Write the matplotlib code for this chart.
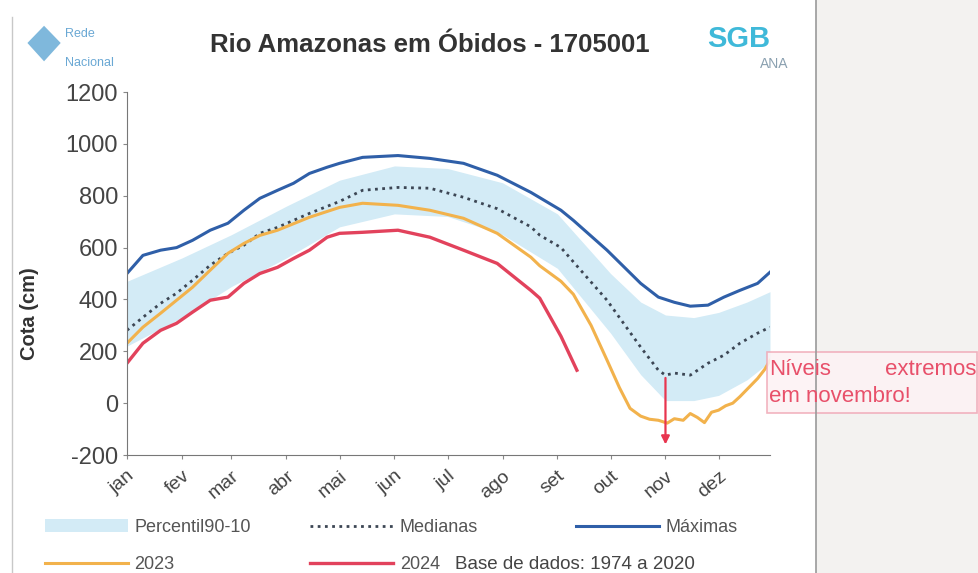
import matplotlib
matplotlib.use("Agg")
import matplotlib.pyplot as plt
from matplotlib.patches import Rectangle, Polygon
from matplotlib.lines import Line2D

plt.rcParams["font.family"] = ["Liberation Sans", "DejaVu Sans"]

# Dias do ano (posições das leituras)
dias_max = [0, 9, 19, 28, 37, 47, 57, 66, 75, 85, 94, 103, 113, 120, 133, 153, 171, 190,
            209, 228, 245, 252, 271, 290, 300, 309, 318, 328, 337, 346, 356, 363]
maximas = [500, 570, 590, 600, 628, 667, 694, 744, 790, 821, 848, 886, 910, 925, 948, 955, 944, 925,
           879, 813, 744, 705, 590, 462, 409, 389, 374, 378, 409, 435, 462, 505]

dias_med = [0, 9, 19, 28, 37, 47, 57, 66, 75, 85, 103, 120, 133, 153, 171, 190, 209, 228,
            233, 245, 252, 271, 290, 300, 304, 309, 318, 328, 337, 346, 356, 363]
medianas = [281, 331, 385, 424, 474, 532, 578, 609, 655, 678, 732, 778, 821, 832, 829, 794, 750, 680,
            648, 600, 545, 397, 216, 127, 108, 116, 108, 154, 185, 231, 270, 293]

dias_2023 = [0, 9, 19, 28, 37, 47, 57, 66, 75, 85, 103, 120, 133, 153, 171, 190, 209, 228,
             233, 245, 252, 262, 271, 278, 284, 290, 295, 300, 305, 309, 314, 318, 322, 326,
             330, 334, 338, 342, 346, 351, 356, 360, 363]
cota_2023 = [231, 293, 347, 397, 447, 513, 578, 616, 647, 667, 717, 755, 771, 763, 744, 713, 655, 563,
             530, 470, 420, 300, 166, 60, -20, -50, -62, -66, -77, -60, -66, -40, -55, -75,
             -35, -27, -10, 0, 25, 60, 95, 130, 165]

dias_2024 = [0, 9, 19, 28, 37, 47, 57, 66, 75, 85, 94, 103, 113, 120, 133, 153, 171, 190,
             209, 228, 233, 245, 254]
cota_2024 = [154, 231, 281, 308, 351, 397, 409, 462, 500, 524, 558, 590, 640, 655, 659, 667, 640, 590,
             539, 435, 405, 258, 127]

dias_faixa = [0, 31, 59, 90, 120, 151, 181, 212, 243, 273, 290, 304, 320, 334, 350, 363]
perc_90 = [470, 560, 650, 760, 860, 915, 905, 850, 730, 500, 390, 340, 330, 350, 390, 430]
perc_10 = [220, 330, 450, 560, 680, 730, 720, 650, 520, 270, 110, 10, 10, 30, 90, 160]

meses = ["jan", "fev", "mar", "abr", "mai", "jun", "jul", "ago", "set", "out", "nov", "dez"]
inicio_meses = [0, 31, 59, 90, 120, 151, 181, 212, 243, 273, 304, 334]
y_ticks = [-200, 0, 200, 400, 600, 800, 1000, 1200]

fig = plt.figure(figsize=(9.79, 5.73), dpi=100)
fig.patch.set_facecolor("white")

# fundo cinza à direita (foto do slide)
fig.patches.append(Rectangle((0.833, 0), 0.167, 1, transform=fig.transFigure,
                             facecolor="#f3f2f0", edgecolor="none", zorder=0))
fig.lines.append(Line2D([0.833, 0.833], [0, 1], transform=fig.transFigure, color="#9a9a9a", lw=1.2))
fig.lines.append(Line2D([0.012, 0.012], [0, 0.97], transform=fig.transFigure, color="#c8c8c8", lw=1))

ax = fig.add_axes([0.1297, 0.2059, 0.6568, 0.6335])
ax.set_facecolor("none")

ax.fill_between(dias_faixa, perc_10, perc_90, color="#d3ebf6", lw=0, label="Percentil90-10")
ax.plot(dias_max, maximas, color="#2f5fa8", lw=2.2, label="Máximas")
ax.plot(dias_med, medianas, color="#3c4654", lw=2, linestyle=(0, (1, 1.6)), label="Medianas")
ax.plot(dias_2023, cota_2023, color="#f2b24c", lw=2.2, label="2023")
ax.plot(dias_2024, cota_2024, color="#e2425c", lw=2.4, label="2024")

ax.annotate("", xy=(304, -170), xytext=(304, 108),
            arrowprops=dict(arrowstyle="-|>", color="#e8354f", lw=1.6, mutation_scale=12))

ax.set_xlim(0, 363)
ax.set_ylim(-200, 1200)
ax.set_xticks(inicio_meses)
ax.set_xticklabels(meses, rotation=40, ha="right", rotation_mode="anchor", fontsize=14, color="#444444")
ax.set_yticks(y_ticks)
ax.set_yticklabels([str(v) for v in y_ticks], fontsize=17, color="#444444")
ax.tick_params(axis="both", length=3, color="#888888")
ax.tick_params(axis="x", pad=6)
for lado in ["top", "right"]:
    ax.spines[lado].set_visible(False)
for lado in ["left", "bottom"]:
    ax.spines[lado].set_color("#777777")
ax.set_ylabel("Cota (cm)", fontsize=14.5, fontweight="bold", color="#333333")
ax.yaxis.set_label_coords(-0.137, 0.39)

fig.text(0.439, 0.921, "Rio Amazonas em Óbidos - 1705001", ha="center", va="center",
         fontsize=18.5, fontweight="bold", color="#333333")

# logos (aproximados)
fig.patches.append(Polygon([[0.028, 0.925], [0.045, 0.955], [0.062, 0.925], [0.045, 0.893]],
                           closed=True, transform=fig.transFigure, facecolor="#7fb8dc", edgecolor="none"))
fig.text(0.066, 0.94, "Rede", fontsize=9, color="#6aa8d4", va="center")
fig.text(0.066, 0.89, "Nacional", fontsize=9, color="#6aa8d4", va="center")
fig.text(0.722, 0.932, "SGB", fontsize=21, fontweight="bold", color="#3fb9d9", va="center")
fig.text(0.776, 0.888, "ANA", fontsize=10, color="#8aa0b0", va="center")

# legenda em três colunas
handles, labels = ax.get_legend_handles_labels()
itens = dict(zip(labels, handles))
colunas = [(["Percentil90-10", "2023"], 0.046), (["Medianas", "2024"], 0.317), (["Máximas"], 0.588)]
for nomes, x0 in colunas:
    leg = fig.legend([itens[n] for n in nomes], nomes, loc="upper left", bbox_to_anchor=(x0, 0.094),
                     frameon=False, fontsize=13, handlelength=4.6, handletextpad=0.35,
                     labelspacing=1.1, borderaxespad=0, borderpad=0, labelcolor="#555555")
fig.text(0.465, 0.015, "Base de dados: 1974 a 2020", fontsize=13.5, color="#444444", va="center")

# caixa de destaque
fig.patches.append(Rectangle((0.783, 0.279), 0.215, 0.106, transform=fig.transFigure,
                             facecolor="#fdf2f4", edgecolor="#f0a7b5", lw=1.2, alpha=0.85))
fig.text(0.786, 0.356, "Níveis", fontsize=16, color="#e8506a", va="center")
fig.text(0.997, 0.356, "extremos", fontsize=16, color="#e8506a", va="center", ha="right")
fig.text(0.786, 0.308, "em novembro!", fontsize=16, color="#e8506a", va="center")

fig.savefig("out.png", dpi=100)
